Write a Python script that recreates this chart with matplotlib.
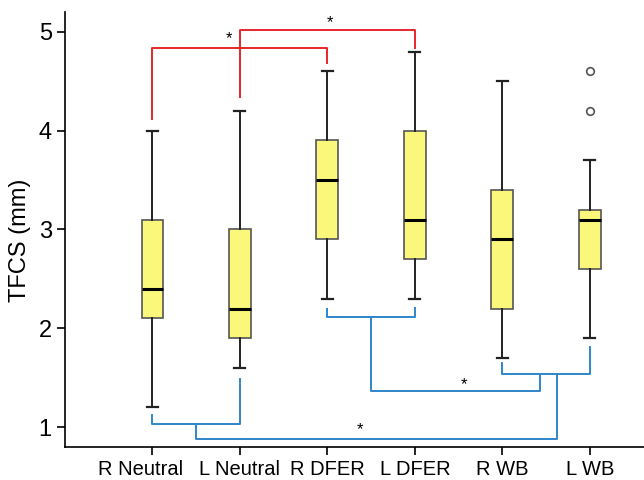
"""
TFCS boxplot with significance brackets
"""

import matplotlib
matplotlib.use('Agg')
import matplotlib.pyplot as plt
import matplotlib.transforms as mtransforms

plt.rcParams['font.family'] = ['Liberation Sans', 'DejaVu Sans']

groups = ['R Neutral', 'L Neutral', 'R DFER', 'L DFER', 'R WB', 'L WB']
whis_lo = [1.2, 1.6, 2.3, 2.3, 1.7, 1.9]
q1 = [2.1, 1.9, 2.9, 2.7, 2.2, 2.6]
median = [2.4, 2.2, 3.5, 3.1, 2.9, 3.1]
q3 = [3.1, 3.0, 3.9, 4.0, 3.4, 3.2]
whis_hi = [4.0, 4.2, 4.6, 4.8, 4.5, 3.7]
outliers = [[], [], [], [], [], [4.2, 4.6]]

# brackets: (x_left, x_right, y_bar, y_left_end, y_right_end)
red_brackets = [(1, 3, 4.84, 4.12, 4.68), (2, 4, 5.02, 4.34, 4.84)]
red_stars = [(1.87, 4.93), (3.03, 5.09)]
blue_brackets = [(1, 2, 1.03, 1.12, 1.49), (3, 4, 2.11, 2.20, 2.21),
                 (5, 6, 1.54, 1.65, 1.81)]
# joining lines: (x_left, x_right, y_bar, y_left_top, y_right_top)
blue_joins = [(1.5, 5.62, 0.88, 1.03, 1.54), (3.5, 5.43, 1.37, 2.11, 1.54)]
blue_stars = [(4.56, 1.43), (3.37, 0.97)]

RED = '#e8262b'
BLUE = '#2e86c9'

stats = []
for i, g in enumerate(groups):
    stats.append({'label': g, 'whislo': whis_lo[i], 'q1': q1[i], 'med': median[i],
                  'q3': q3[i], 'whishi': whis_hi[i], 'fliers': outliers[i]})

fig = plt.figure(figsize=(6.44, 4.8), dpi=100)
ax = fig.add_axes([0.101, 0.069, 0.899, 0.906])

pos = list(range(1, len(groups) + 1))
ax.bxp(stats, positions=pos, widths=0.25, patch_artist=True, showfliers=True,
       boxprops=dict(facecolor='#faf77a', edgecolor='#555555', linewidth=1.2),
       medianprops=dict(color='black', linewidth=2.2),
       whiskerprops=dict(color='#222222', linewidth=1.4),
       capprops=dict(color='#222222', linewidth=1.6),
       flierprops=dict(marker='o', markerfacecolor='none', markeredgecolor='#555555',
                       markersize=5.5, markeredgewidth=1.2))

for xl, xr, yb, yl, yr in red_brackets:
    ax.plot([xl, xl, xr, xr], [yl, yb, yb, yr], color=RED, lw=1.4)
for x, y in red_stars:
    ax.text(x, y, '*', ha='center', va='center', fontsize=12)

for xl, xr, yb, yl, yr in blue_brackets + blue_joins:
    ax.plot([xl, xl, xr, xr], [yl, yb, yb, yr], color=BLUE, lw=1.4)
for x, y in blue_stars:
    ax.text(x, y, '*', ha='center', va='center', fontsize=12)

ax.set_xlim(0, 6.62)
ax.set_ylim(0.8, 5.2)
ax.set_yticks([1, 2, 3, 4, 5])
ax.set_xticks(pos)
ax.set_xticklabels(groups, fontsize=14.5)
ax.tick_params(axis='y', labelsize=17, length=6, width=1.2)
ax.tick_params(axis='x', length=6, width=1.2)
ax.set_ylabel('TFCS (mm)', fontsize=17)
ax.yaxis.set_label_coords(-0.058, 0.475)
ax.spines['top'].set_visible(False)
ax.spines['right'].set_visible(False)
ax.spines['left'].set_linewidth(1.2)
ax.spines['bottom'].set_linewidth(1.2)

# first label sits a bit left of its tick in the original
lbl = ax.get_xticklabels()[0]
lbl.set_transform(lbl.get_transform() +
                  mtransforms.ScaledTranslation(-12 / 100, 0, fig.dpi_scale_trans))

fig.savefig('out.png', dpi=100)
